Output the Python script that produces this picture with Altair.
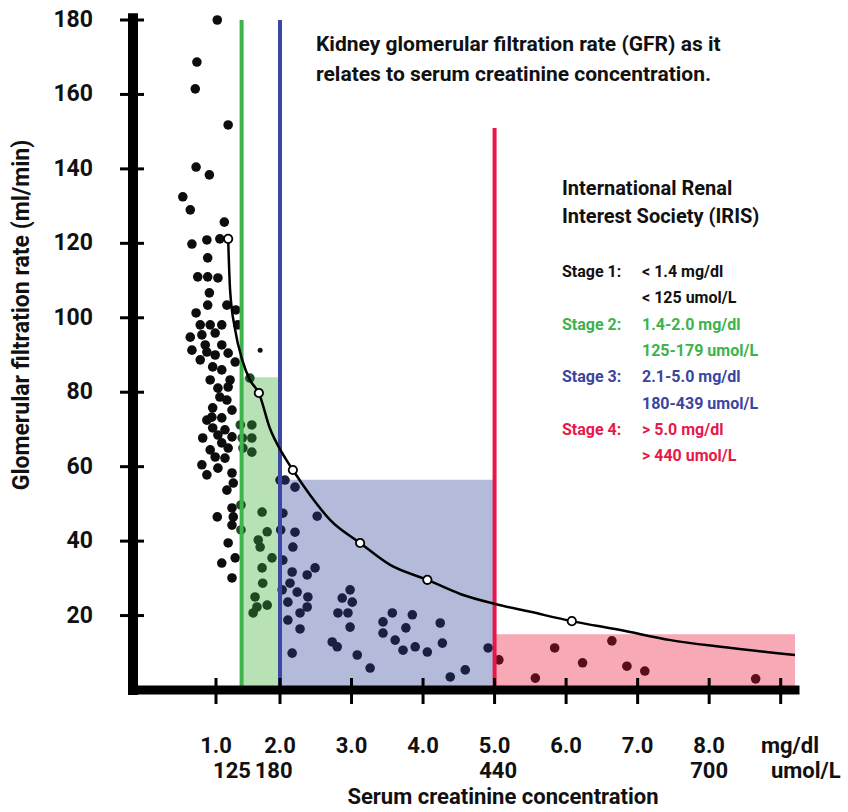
import altair as alt
import pandas as pd

FONT = "Roboto, Liberation Sans, sans-serif"

# ---------------- data ----------------
# Stage 1 (< 1.4 mg/dl) patients
s1_x = [1.02, 0.77, 0.75, 1.19, 0.76, 0.92, 0.60, 0.69, 1.13, 0.71, 0.89, 1.06, 0.90, 0.78, 0.90,
        1.03, 0.92, 0.90, 1.17, 0.76, 1.31, 0.81, 0.93, 1.09, 0.69, 0.83, 0.99, 0.71, 0.89, 1.09,
        1.19, 1.30, 0.96, 1.09, 0.93, 1.22, 1.03, 1.19, 1.06, 0.96, 1.25, 0.95, 1.09, 0.96, 1.14,
        1.25, 0.84, 1.09, 1.19, 0.99, 1.14, 0.83, 1.03, 1.25, 0.89, 1.27, 1.17, 1.25, 1.02, 1.27,
        1.25, 1.19, 1.30, 1.09, 1.25, 0.87, 0.99, 0.81, 1.17, 0.89, 1.03, 0.93, 1.34]
s1_y = [180.0, 168.7, 161.5, 151.8, 140.5, 138.4, 132.5, 129.0, 125.7, 119.8, 120.9, 121.2, 116.1, 111.0, 111.0,
        110.7, 106.7, 103.4, 103.4, 101.3, 102.1, 98.1, 98.1, 98.1, 94.8, 95.4, 95.9, 91.3, 90.8, 92.7,
        90.5, 88.1, 86.8, 86.0, 83.3, 83.3, 81.1, 81.4, 78.7, 75.8, 75.2, 73.3, 73.1, 70.4, 69.9,
        68.0, 67.7, 66.4, 65.0, 62.6, 62.3, 60.5, 59.6, 58.3, 57.8, 55.6, 53.7, 48.9, 46.5, 46.5,
        44.3, 39.5, 35.5, 34.1, 30.1, 92.7, 90.0, 88.7, 77.9, 72.5, 68.5, 64.5, 98.1]
# Stage 2 (1.4-2.0 mg/dl)
s2_x = [1.53, 1.38, 1.56, 1.41, 1.56, 1.42, 1.56, 1.72, 1.80, 1.66, 1.69, 1.875, 1.72, 1.73,
        1.61, 1.64, 1.80, 1.58, 1.39, 1.39]
s2_y = [83.8, 71.2, 71.2, 67.7, 67.7, 65.0, 63.9, 47.8, 42.5, 40.3, 38.4, 35.5, 32.8, 28.7,
        25.0, 22.3, 22.8, 20.7, 49.7, 43.0]
small_x = [1.69]
small_y = [91.3]
# Stage 3 (2.1-5.0 mg/dl)
s3_x = [2.00, 2.07, 2.21, 2.04, 2.52, 2.21, 2.18, 2.04, 2.49, 2.38, 2.17, 2.14, 2.24, 2.39, 2.11,
        2.38, 2.28, 2.11, 2.28, 2.17, 2.98, 2.87, 3.01, 2.81, 2.95, 2.98, 2.73, 2.80, 3.08, 3.26,
        3.57, 3.44, 3.44, 3.61, 3.76, 3.85, 3.72, 3.89, 4.06, 4.24, 4.27, 4.38, 4.59, 4.91, 2.01, 2.03]
s3_y = [56.4, 56.4, 54.5, 47.5, 46.7, 42.4, 38.4, 34.9, 32.8, 30.9, 31.7, 28.7, 26.3, 25.0, 23.6,
        22.3, 20.7, 18.8, 16.4, 9.9, 26.9, 24.7, 23.6, 20.7, 20.7, 16.9, 12.9, 11.6, 9.4, 5.9,
        20.7, 18.3, 15.3, 13.4, 16.7, 20.2, 10.7, 11.6, 10.2, 18.0, 12.6, 3.5, 5.4, 11.3, 43.0, 26.9]
# Stage 4 (> 5.0 mg/dl)
s4_x = [5.06, 5.57, 5.84, 6.23, 6.64, 6.85, 7.10, 8.65]
s4_y = [8.1, 3.2, 11.3, 7.3, 13.2, 6.4, 5.1, 3.0]

# GFR vs creatinine curve
curve_x = [1.19, 1.22, 1.30, 1.41, 1.53, 1.67, 1.84, 2.03, 2.18, 2.42, 2.70, 3.12, 3.54, 4.06,
           4.52, 5.01, 5.50, 6.08, 6.76, 7.46, 8.16, 9.20]
curve_y = [121.2, 107.5, 96.7, 88.7, 83.3, 79.8, 70.4, 63.7, 59.1, 52.4, 45.7, 39.5, 33.6, 29.6,
           25.8, 23.1, 21.0, 18.5, 16.1, 13.4, 11.6, 9.4]
marker_x = [1.19, 1.67, 2.18, 3.12, 4.06, 6.08]
marker_y = [121.2, 79.8, 59.1, 39.5, 29.6, 18.5]

# IRIS stage bands and boundary lines
band_stage = ["Stage 2", "Stage 3", "Stage 4"]
band_x0 = [1.4, 2.0, 5.0]
band_x1 = [2.0, 5.0, 9.2]
band_top = [84.0, 56.5, 15.0]
line_x = [1.4, 2.0, 5.0]
line_top = [180.0, 180.0, 151.0]

# axes extent, ticks and labels
x_extent = [0, 9.2]
y_extent = [0, 180.5]
y_ticks = [20, 40, 60, 80, 100, 120, 140, 160, 180]
y_tick_labels = ["20", "40", "60", "80", "100", "120", "140", "160", "180"]
x_ticks = [1.0, 2.0, 3.0, 4.0, 5.0, 6.0, 7.0, 8.0, 9.0]
x_lab1_val = [1, 2, 3, 4, 5, 6, 7, 8, 9.13]
x_lab1 = ["1.0", "2.0", "3.0", "4.0", "5.0", "6.0", "7.0", "8.0", "mg/dl"]
x_lab2_val = [1.25, 1.9, 5.05, 8.0, 9.35]
x_lab2 = ["125", "180", "440", "700", "umol/L"]

# legend text
legend_rows = [
    ("Stage 1:", "< 1.4 mg/dl", "#111111"),
    ("", "< 125 umol/L", "#111111"),
    ("Stage 2:", "1.4-2.0 mg/dl", "#3cb34a"),
    ("", "125-179 umol/L", "#3cb34a"),
    ("Stage 3:", " 2.1-5.0 mg/dl", "#3a45a0"),
    ("", "180-439 umol/L", "#3a45a0"),
    ("Stage 4:", "> 5.0 mg/dl", "#e8174a"),
    ("", "> 440 umol/L", "#e8174a"),
]

# ---------------- chart ----------------
W, H = 662, 670
xs = alt.Scale(domain=[0, 1, 2, 9.2], range=[0, 83, 147, 662], nice=False)
ys = alt.Scale(domain=[0, 180], nice=False)
PX = 180 / H  # y units per pixel (for tick length)


def X(f):
    return alt.X(f, scale=xs, axis=None)


def Y(f):
    return alt.Y(f, scale=ys, axis=None)


stage_names = ["Stage 1", "Stage 2", "Stage 3", "Stage 4"]
pts = pd.concat([
    pd.DataFrame({"x": s1_x, "y": s1_y, "stage": "Stage 1"}),
    pd.DataFrame({"x": s2_x, "y": s2_y, "stage": "Stage 2"}),
    pd.DataFrame({"x": s3_x, "y": s3_y, "stage": "Stage 3"}),
    pd.DataFrame({"x": s4_x, "y": s4_y, "stage": "Stage 4"}),
])
pt_color = alt.Scale(domain=stage_names, range=["#0d0d0d", "#1d4a22", "#1b1f42", "#5a0d1c"])

bands = pd.DataFrame({"stage": band_stage, "x0": band_x0, "x1": band_x1, "top": band_top})
lines = pd.DataFrame({"stage": band_stage, "x": line_x, "top": line_top})

band_layer = alt.Chart(bands).mark_rect().encode(
    x=X("x0:Q"), x2="x1:Q", y=Y("top:Q"), y2=alt.datum(0),
    color=alt.Color("stage:N", legend=None,
                    scale=alt.Scale(domain=band_stage, range=["#b8e2b6", "#b4bad9", "#f7a9b6"])),
)

point_layer = alt.Chart(pts).mark_circle(size=92, opacity=1).encode(
    x=X("x:Q"), y=Y("y:Q"),
    fill=alt.Fill("stage:N", scale=pt_color, legend=None),
)
small_layer = alt.Chart(pd.DataFrame({"x": small_x, "y": small_y})).mark_circle(
    size=25, opacity=1, color="#111111").encode(x=X("x:Q"), y=Y("y:Q"))

line_layer = alt.Chart(lines).mark_rule(strokeWidth=4).encode(
    x=X("x:Q"), y=Y("top:Q"), y2=alt.datum(0),
    stroke=alt.Stroke("stage:N", legend=None,
                      scale=alt.Scale(domain=band_stage, range=["#3db54a", "#3a47a3", "#e8174a"])),
)

curve_layer = alt.Chart(pd.DataFrame({"x": curve_x, "y": curve_y})).mark_line(
    color="black", strokeWidth=2.5, interpolate="monotone").encode(x=X("x:Q"), y=Y("y:Q"))
marker_layer = alt.Chart(pd.DataFrame({"x": marker_x, "y": marker_y})).mark_point(
    shape="circle", size=70, filled=True, fill="white", stroke="black", strokeWidth=1.8,
    opacity=1).encode(x=X("x:Q"), y=Y("y:Q"))

# axis lines
yaxis_layer = alt.Chart(pd.DataFrame({"a": [y_extent[0]], "b": [y_extent[1]]})).mark_rule(
    strokeWidth=10, color="black", strokeCap="square").encode(
    x=alt.value(0), y=Y("a:Q"), y2="b:Q")
xaxis_layer = alt.Chart(pd.DataFrame({"a": [x_extent[0]], "b": [x_extent[1]]})).mark_rule(
    strokeWidth=9, color="black", strokeCap="square").encode(
    y=alt.value(670), x=X("a:Q"), x2="b:Q")

ytick_layer = alt.Chart(pd.DataFrame({"v": y_ticks})).mark_rule(strokeWidth=3, color="black").encode(
    y=Y("v:Q"), x=alt.value(-13), x2=alt.value(11))
xt = pd.DataFrame({"xt": x_ticks})
xt["lo"] = -14 * PX
xt["hi"] = 12 * PX
xtick_layer = alt.Chart(xt).mark_rule(strokeWidth=3, color="black").encode(
    x=X("xt:Q"), y=Y("lo:Q"), y2="hi:Q")

ylab_layer = alt.Chart(pd.DataFrame({"v": y_ticks, "t": y_tick_labels})).mark_text(
    font=FONT, fontSize=23, fontWeight="bold", color="#111111", baseline="middle", align="right").encode(
    y=Y("v:Q"), x=alt.value(-40), text="t:N")
xlab1_layer = alt.Chart(pd.DataFrame({"v": x_lab1_val, "t": x_lab1})).mark_text(
    font=FONT, fontSize=22, fontWeight="bold", color="#111111", baseline="middle").encode(
    x=X("v:Q"), y=alt.value(726), text="t:N")
xlab2_layer = alt.Chart(pd.DataFrame({"v": x_lab2_val, "t": x_lab2})).mark_text(
    font=FONT, fontSize=22, fontWeight="bold", color="#111111", baseline="middle").encode(
    x=X("v:Q"), y=alt.value(751), text="t:N")


def label(txt, x, y, size, color="#111111", align="left", angle=0):
    return alt.Chart(pd.DataFrame({"t": [txt]})).mark_text(
        font=FONT, fontSize=size, fontWeight="bold", color=color, align=align,
        baseline="middle", angle=angle).encode(x=alt.value(x), y=alt.value(y), text="t:N")


texts = [
    label("Serum creatinine concentration", 370, 777, 22, align="center"),
    label("Glomerular filtration rate (ml/min)", -111, 295, 23, align="center", angle=270),
    label("Kidney glomerular filtration rate (GFR) as it", 183, 25, 21),
    label("relates to serum creatinine concentration.", 183, 55, 21),
    label("International Renal", 429, 169, 20),
    label("Interest Society (IRIS)", 429, 197, 20),
]
for i, (stage, val, col) in enumerate(legend_rows):
    yy = 252 + i * 26.3
    if stage:
        texts.append(label(stage, 429, yy, 16, color=col))
    texts.append(label(val, 509, yy, 16, color=col))

chart = alt.layer(
    band_layer, point_layer, small_layer, line_layer, curve_layer, marker_layer,
    yaxis_layer, xaxis_layer, xtick_layer, ytick_layer, ylab_layer, xlab1_layer, xlab2_layer, *texts
).properties(
    width=W, height=H,
    autosize=alt.AutoSizeParams(type="none"),
    padding={"left": 133, "top": 20, "right": 53, "bottom": 122},
    background="white",
).configure_view(stroke=None)

chart.save("out.html", embed_options={"renderer": "svg", "actions": False})
